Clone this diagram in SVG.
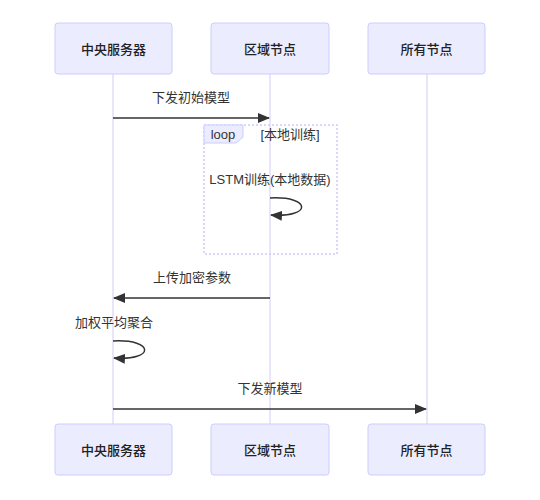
<svg xmlns="http://www.w3.org/2000/svg" width="540" height="500" viewBox="0 0 540 500">
<defs>
<style>
.actor{fill:#ECECFF;stroke:#CCCCFF;stroke-width:1}
.lifeline{stroke:#D4CCF5;stroke-width:1}
.t{font-family:"Liberation Sans","Noto Sans CJK SC",sans-serif;font-size:13px;fill:#333;text-anchor:middle;dominant-baseline:central}
.a{font-weight:500;fill:#222}
.msg{stroke:#333;stroke-width:1.5;fill:none}
.loop{fill:none;stroke:#CCCCFF;stroke-width:1.5;stroke-dasharray:2,2}
</style>
<marker id="arr" viewBox="0 0 12 10" refX="11" refY="5" markerWidth="12" markerHeight="10" markerUnits="userSpaceOnUse" orient="auto">
<path d="M0,0 L12,5 L0,10 z" fill="#333"/>
</marker>
</defs>
<rect width="540" height="500" fill="#fff"/>
<g id="lifelines">
<line class="lifeline" x1="113" y1="74" x2="113" y2="424"/>
<line class="lifeline" x1="270" y1="74" x2="270" y2="424"/>
<line class="lifeline" x1="427" y1="74" x2="427" y2="424"/>
</g>
<g id="actor-server-top"><rect class="actor" x="55" y="23" width="117" height="51" rx="3"/><text class="t a" x="113.5" y="49">中央服务器</text></g>
<g id="actor-region-top"><rect class="actor" x="211" y="23" width="118" height="51" rx="3"/><text class="t a" x="270" y="49">区域节点</text></g>
<g id="actor-all-top"><rect class="actor" x="368" y="23" width="117" height="51" rx="3"/><text class="t a" x="426.5" y="49">所有节点</text></g>
<g id="actor-server-bottom"><rect class="actor" x="55" y="424" width="117" height="51" rx="3"/><text class="t a" x="113.5" y="450">中央服务器</text></g>
<g id="actor-region-bottom"><rect class="actor" x="211" y="424" width="118" height="51" rx="3"/><text class="t a" x="270" y="450">区域节点</text></g>
<g id="actor-all-bottom"><rect class="actor" x="368" y="424" width="117" height="51" rx="3"/><text class="t a" x="426.5" y="450">所有节点</text></g>
<g id="loop">
<rect class="loop" x="204" y="125" width="133" height="129"/>
<path d="M204,125 H243 V137 L236,143 H204 Z" fill="#ECECFF" stroke="#CCCCFF" stroke-width="1"/>
<text class="t" x="223" y="134">loop</text>
<text class="t" x="290" y="134">[本地训练]</text>
</g>
<g id="connectors">
<line class="msg" x1="113" y1="118" x2="269" y2="118" marker-end="url(#arr)"/>
<text class="t" x="191" y="97">下发初始模型</text>
<text class="t" x="270" y="179">LSTM训练(本地数据)</text>
<path class="msg" d="M270,198 C312,196 312,218 271,215" marker-end="url(#arr)"/>
<line class="msg" x1="270" y1="298" x2="114" y2="298" marker-end="url(#arr)"/>
<text class="t" x="192" y="277">上传加密参数</text>
<text class="t" x="114" y="322">加权平均聚合</text>
<path class="msg" d="M113,341 C155,339 155,361 114,358" marker-end="url(#arr)"/>
<line class="msg" x1="113" y1="409" x2="426" y2="409" marker-end="url(#arr)"/>
<text class="t" x="270" y="388">下发新模型</text>
</g>
</svg>
